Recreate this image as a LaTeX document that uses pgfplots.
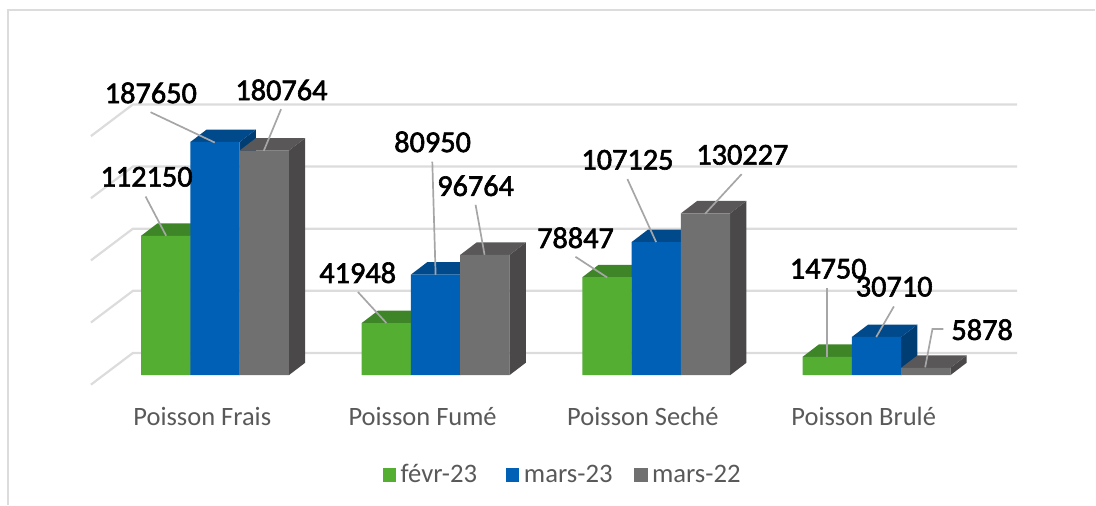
\documentclass[border=0pt]{standalone}
\usepackage{fontspec}
\setmainfont{Carlito}
\newfontfamily\labfont[FakeBold=2]{Carlito}
\usepackage{pgfplots}
\usepackage{pgfplotstable}
\pgfplotsset{compat=1.18}

\definecolor{gfront}{HTML}{53AE32}
\definecolor{gtop}{HTML}{3E8528}
\definecolor{gside}{HTML}{336D20}
\definecolor{bfront}{HTML}{0060B5}
\definecolor{btop}{HTML}{004A8C}
\definecolor{bside}{HTML}{003D73}
\definecolor{dfront}{HTML}{707070}
\definecolor{dtop}{HTML}{595757}
\definecolor{dside}{HTML}{4A4849}
\definecolor{gridc}{HTML}{DCDCDC}
\definecolor{leader}{HTML}{A6A6A6}
\definecolor{txt}{HTML}{595959}

% x is in picture pixels, y is the data value (804 units per pixel, zero at pixel row 375.5)
\pgfplotstableread{
x val
165.9 112150
386.7 41948
607.6 78847
828.0 14750
}\fevr
\pgfplotstableread{
x val
215.2 187650
436.0 80950
656.9 107125
877.3 30710
}\marsb
\pgfplotstableread{
x val
264.5 180764
485.3 96764
706.2 130227
926.6 5878
}\marsa

% faces of a bar: dx from its left edge, share of its value, depth in value units
\pgfplotstableread{
dx fv dv
0 1 0
49.3 1 0
65.6 1 10000
16.3 1 10000
}\topface
\pgfplotstableread{
dx fv dv
49.3 0 0
65.6 0 10000
65.6 1 10000
49.3 1 0
}\sideface

\newcommand{\faces}[4]{%
  \addplot[forget plot, draw=none, fill=#4] table[x expr={#1-24.65+\thisrow{dx}}, y expr={#2*\thisrow{fv}+\thisrow{dv}}] {\sideface};
  \addplot[forget plot, draw=none, fill=#3] table[x expr={#1-24.65+\thisrow{dx}}, y expr={#2*\thisrow{fv}+\thisrow{dv}}] {\topface};
}
\newcommand{\leaderline}[1]{%
  \addplot[forget plot, leader, line width=1.7pt] table[x=px, y expr={(375.5-\thisrow{py})*804}, row sep=\\] {px py\\ #1};
}

\begin{document}
\begin{tikzpicture}
\begin{axis}[
    scale only axis,
    width=1096pt,
    height=505pt,
    xmin=0, xmax=1096,
    ymin=-104118, ymax=301902,
    clip=false,
    axis line style={draw=none},
    tick style={draw=none},
    ytick=\empty,
    xtick={202.5,423,643.5,864.5},
    xticklabels={Poisson Frais,Poisson Fumé,Poisson Seché,Poisson Brulé},
    xticklabel style={font=\fontsize{26.5}{26.5}\selectfont, text=txt, anchor=center, yshift=88pt},
    legend style={at={(0.5138,0.0594)}, anchor=center, legend columns=3, draw=none, fill=none,
        font=\fontsize{26.7}{26.7}\selectfont, text=txt,
        /tikz/every odd column/.append style={column sep=2.5pt},
        /tikz/column 2/.style={column sep=27pt},
        /tikz/column 4/.style={column sep=19.5pt}},
    legend image code/.code={\fill[#1] (0pt,-7pt) rectangle (13.5pt,6.5pt);},
    legend cell align=left,
]
% back wall and floor lines, every 50000
\addplot[forget plot, gridc, line width=2.2pt] coordinates {(91,-7640) (133,17850) (1018,17850)};
\addplot[forget plot, gridc, line width=2.2pt] coordinates {(91,42360) (133,67850) (1018,67850)};
\addplot[forget plot, gridc, line width=2.2pt] coordinates {(91,92360) (133,117850) (1018,117850)};
\addplot[forget plot, gridc, line width=2.2pt] coordinates {(91,142360) (133,167850) (1018,167850)};
\addplot[forget plot, gridc, line width=2.2pt] coordinates {(91,192360) (133,217850) (1018,217850)};

% outer frame of the chart
\addplot[forget plot, gridc, line width=2pt] coordinates {(8,-104118) (8,293862) (1096,293862)};

\faces{165.9}{112150}{gtop}{gside}
\faces{386.7}{41948}{gtop}{gside}
\faces{607.6}{78847}{gtop}{gside}
\faces{828.0}{14750}{gtop}{gside}
\addplot[ybar, bar width=49.3, bar shift=0pt, draw=none, fill=gfront] table[x=x, y=val] {\fevr};
\faces{215.2}{187650}{btop}{bside}
\faces{436.0}{80950}{btop}{bside}
\faces{656.9}{107125}{btop}{bside}
\faces{877.3}{30710}{btop}{bside}
\addplot[ybar, bar width=49.3, bar shift=0pt, draw=none, fill=bfront] table[x=x, y=val] {\marsb};
\faces{264.5}{180764}{dtop}{dside}
\faces{485.3}{96764}{dtop}{dside}
\faces{706.2}{130227}{dtop}{dside}
\faces{926.6}{5878}{dtop}{dside}
\addplot[ybar, bar width=49.3, bar shift=0pt, draw=none, fill=dfront] table[x=x, y=val] {\marsa};

\leaderline{150.7 112.3\\ 215 142.7\\}
\leaderline{281.3 109.3\\ 264 151\\}
\leaderline{145.7 196.7\\ 166.3 236\\}
\leaderline{432.7 161.7\\ 436 275\\}
\leaderline{476 205\\ 485 255\\}
\leaderline{358.3 292.3\\ 386.7 323.3\\}
\leaderline{576 257\\ 607.7 277.7\\}
\leaderline{628 179.3\\ 656.7 242.3\\}
\leaderline{742.3 174.3\\ 705.7 214\\}
\leaderline{828 288.3\\ 828 357.3\\}
\leaderline{894.7 306.7\\ 877 337.3\\}
\leaderline{944.3 329.3\\ 933.3 329.3\\ 926 367.7\\}

% data labels, placed where the reference has them
\addplot[forget plot, draw=none, mark=none,
    nodes near coords, point meta=explicit symbolic,
    every node near coord/.style={anchor=center, inner sep=0pt, text=black, font=\labfont\fontsize{30.3}{30}\selectfont}]
    table[x=px, y expr={(375.5-\thisrow{py})*804}, meta=lab, row sep=\\] {
px py lab\\
151 93 187650\\
281.7 90 180764\\
146.7 177 112150\\
433 142 80950\\
476 186 96764\\
358 273 41948\\
576 238 78847\\
628 160 107125\\
743 155 130227\\
829 269 14750\\
895 287 30710\\
983 330 5878\\
};
\legend{févr-23,mars-23,mars-22}
\end{axis}
\end{tikzpicture}
\end{document}
